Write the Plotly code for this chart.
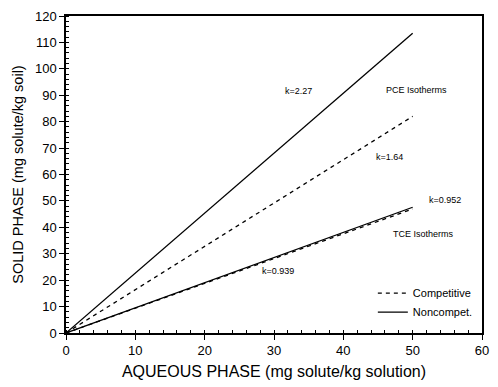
import plotly.graph_objects as go

x_end = [0, 50]
pce_noncomp_k = 2.27
pce_comp_k = 1.64
tce_noncomp_k = 0.952
tce_comp_k = 0.939

series = [
    ("Noncompet.", pce_noncomp_k, "solid", True),
    ("Competitive", pce_comp_k, "dash", True),
    ("tce_nc", tce_noncomp_k, "solid", False),
    ("tce_c", tce_comp_k, "dash", False),
]

labels = [
    ("k=2.27", 33.6, 91.5),
    ("PCE Isotherms", 50.5, 92),
    ("k=1.64", 46.6, 66.5),
    ("k=0.952", 54.6, 50.5),
    ("TCE Isotherms", 51.5, 37.5),
    ("k=0.939", 30.6, 23.5),
]

fig = go.Figure()
# legend order: Competitive first
order = [1, 0, 2, 3]
for i in order:
    name, k, dash, show = series[i]
    fig.add_trace(go.Scatter(
        x=x_end, y=[k * v for v in x_end], mode="lines", name=name,
        line=dict(color="black", width=1.3, dash=dash if dash == "solid" else "4px,4px"),
        showlegend=show,
    ))

for t, x, y in labels:
    fig.add_annotation(x=x, y=y, text=t, showarrow=False,
                       font=dict(size=9, color="black", family="Liberation Sans"))

axis_common = dict(
    showline=True, linecolor="black", linewidth=1.5, mirror=True,
    showgrid=False, zeroline=False, ticks="outside", ticklen=5,
    tickcolor="black", tickfont=dict(size=13, color="black", family="Liberation Sans"),
    minor=dict(ticks="inside", ticklen=3, tickcolor="black"),
)
fig.update_xaxes(range=[0, 60], dtick=10, title=dict(
    text="AQUEOUS PHASE (mg solute/kg solution)", font=dict(size=16, family="Liberation Sans", color="black"), standoff=8),
    **axis_common)
fig.update_yaxes(range=[0, 120], dtick=10, title=dict(
    text="SOLID PHASE (mg solute/kg soil)", font=dict(size=14.5, family="Liberation Sans", color="black"), standoff=8),
    **axis_common)
fig.update_layout(
    width=498, height=387,
    margin=dict(l=66, r=9, t=15, b=47),
    plot_bgcolor="white", paper_bgcolor="white",
    legend=dict(x=0.99, y=0.02, xanchor="right", yanchor="bottom",
                bgcolor="rgba(0,0,0,0)", font=dict(size=11, family="Liberation Sans", color="black"),
                tracegroupgap=0, itemwidth=30),
)
fig.write_html("out.html")
